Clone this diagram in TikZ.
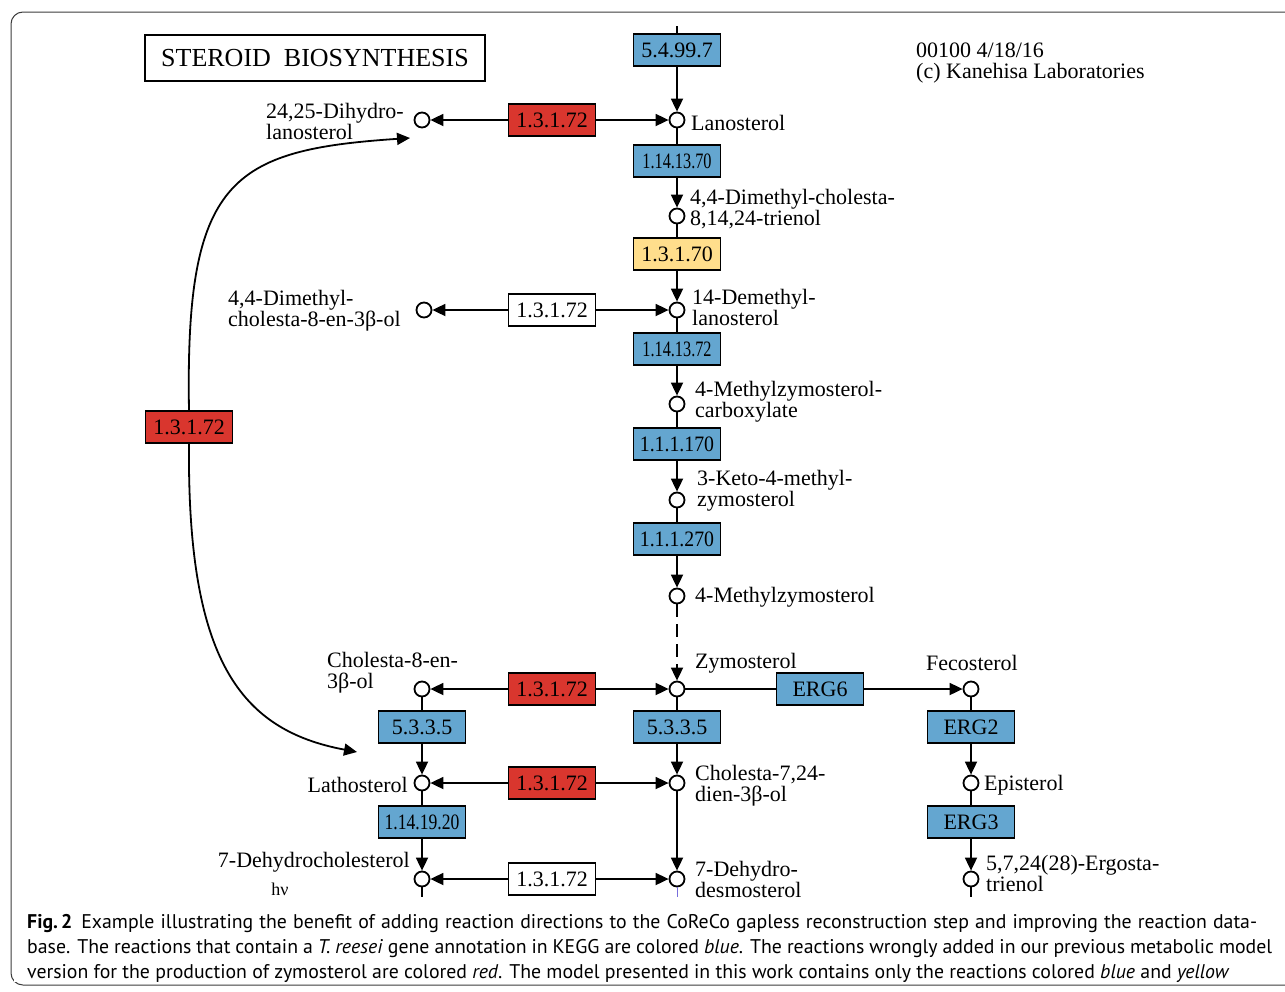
\documentclass[tikz,border=0pt]{standalone}
\usepackage{fontspec}
\usepackage{graphicx}
\setmainfont{Liberation Serif}
\newfontfamily\capfont{PT Sans}
\usetikzlibrary{arrows.meta}
\definecolor{keggblue}{RGB}{100,166,208}
\definecolor{keggred}{RGB}{217,54,46}
\definecolor{keggyellow}{RGB}{255,222,140}
\definecolor{framegray}{RGB}{60,60,60}
\definecolor{linkviolet}{RGB}{120,110,220}
\newcommand\kf{\fontsize{22}{21}\selectfont}
\newcommand\nx[2]{\scalebox{#1}[1]{#2}}
\begin{document}
\begin{tikzpicture}[x=1pt,y=-1pt,
  cpd/.style={circle,draw=black,fill=white,line width=1.8pt,minimum size=15pt,inner sep=0pt},
  enz/.style={draw=black,line width=1.3pt,minimum width=87pt,minimum height=32pt,inner sep=0pt,font=\kf},
  enzB/.style={enz,fill=keggblue},
  enzR/.style={enz,fill=keggred},
  enzY/.style={enz,fill=keggyellow},
  enzW/.style={enz,fill=white},
  lab/.style={anchor=west,align=left,font=\kf,inner sep=0pt},
  labR/.style={anchor=east,align=right,font=\kf,inner sep=0pt},
  capl/.style={anchor=base west,inner sep=0pt,font=\capfont\fontsize{19.8}{25}\selectfont},
  rxn/.style={line width=1.8pt},
  rxnA/.style={rxn,-{Triangle[length=13pt,width=12pt]}}]
\useasboundingbox (0,0) rectangle (1285,991);
\clip (0,0) rectangle (1285,991);
\def\xm{677}
\def\xl{422}
\def\xr{971}
\def\xe{552}

\draw[framegray,line width=1pt,rounded corners=12pt] (11,12) rectangle (1320,985);

\node[draw=black,line width=2.8pt,minimum width=340pt,minimum height=46pt,font=\fontsize{26}{26}\selectfont] (title) at (315,58) {STEROID\ \ BIOSYNTHESIS};
\node[lab] (copy) at (916,63) {00100 4/18/16\\(c) Kanehisa Laboratories};

\coordinate (top) at (\xm,26);
\node[enzB] (e5499) at (\xm,50) {5.4.99.7};
\node[cpd] (lano) at (\xm,120) {};
\node[lab] at (691,123) {Lanosterol};
\node[enzR] (r1) at (\xe,120) {1.3.1.72};
\node[cpd] (dihy) at (\xl,120) {};
\node[lab] at (266,121) {24,25-Dihydro-\\lanosterol};
\node[enzB] (e11413a) at (\xm,161) {\nx{0.74}{1.14.13.70}};
\node[cpd] (dmct) at (\xm,216) {};
\node[lab] at (690,209) {4,4-Dimethyl-cholesta-\\8,14,24-trienol};
\node[enzY] (e13170) at (\xm,254) {1.3.1.70};
\node[cpd] (demeth) at (\xm,310) {};
\node[lab] at (692,307) {14-Demethyl-\\lanosterol};
\node[enzW] (w1) at (\xe,310) {1.3.1.72};
\node[cpd] (dmch) at (424,310) {};
\node[lab] at (228,311) {4,4-Dimethyl-\\cholesta-8-en-3β-ol};
\node[enzB] (e11413b) at (\xm,349) {\nx{0.74}{1.14.13.72}};
\node[cpd] (mzc) at (\xm,404) {};
\node[lab] at (695,402) {4-Methylzymosterol-\\carboxylate};
\node[enzB] (e111170) at (\xm,444) {\nx{0.9}{1.1.1.170}};
\node[cpd] (keto) at (\xm,500) {};
\node[lab] at (697,491) {3-Keto-4-methyl-\\zymosterol};
\node[enzB] (e111270) at (\xm,539) {\nx{0.9}{1.1.1.270}};
\node[cpd] (mz) at (\xm,596) {};
\node[lab] at (695,597) {4-Methylzymosterol};
\node[cpd] (zymo) at (\xm,689) {};
\node[lab] at (695,663) {Zymosterol};
\node[enzR] (r2) at (\xe,689) {1.3.1.72};
\node[cpd] (ch8) at (\xl,689) {};
\node[lab] at (327,673) {Cholesta-8-en-\\3β-ol};
\node[enzB] (erg6) at (820,689) {ERG6};
\node[cpd] (feco) at (\xr,689) {};
\node[lab] at (926,663) {Fecosterol};
\node[enzB] (e5335a) at (\xl,727) {5.3.3.5};
\node[enzB] (e5335b) at (\xm,727) {5.3.3.5};
\node[enzB] (erg2) at (\xr,727) {ERG2};
\node[cpd] (latho) at (\xl,783) {};
\node[labR] at (408,785) {Lathosterol};
\node[enzR] (r3) at (\xe,783) {1.3.1.72};
\node[cpd] (ch724) at (\xm,783) {};
\node[lab] at (695,786) {Cholesta-7,24-\\dien-3β-ol};
\node[cpd] (epi) at (\xr,783) {};
\node[lab] at (984,785) {Episterol};
\node[enzB] (e11419) at (\xl,822) {\nx{0.8}{1.14.19.20}};
\node[enzB] (erg3) at (\xr,822) {ERG3};
\node[cpd] (dhc) at (\xl,879) {};
\node[labR] at (410,862) {7-Dehydrocholesterol};
\node[font=\fontsize{18}{18}\selectfont] (hnu) at (280,889) {hν};
\node[enzW] (w2) at (\xe,879) {1.3.1.72};
\node[cpd] (dhd) at (\xm,879) {};
\node[lab] at (695,879) {7-Dehydro-\\desmosterol};
\node[cpd] (erg) at (\xr,879) {};
\node[lab] at (986,873) {5,7,24(28)-Ergosta-\\trienol};
\coordinate (b1) at (\xl,897);
\coordinate (b2) at (\xm,897);
\coordinate (b3) at (\xr,897);

\node[enzR] (rc) at (189,427) {1.3.1.72};
\coordinate (cu) at (410,138);
\coordinate (cd) at (357,752);

\draw[rxn] (top) -- (e5499.north);
\draw[rxnA] (e5499.south) -- (lano.north);
\draw[rxnA] (r1.east) -- (lano.west);
\draw[rxnA] (r1.west) -- (dihy.east);
\draw[rxn] (lano.south) -- (e11413a.north);
\draw[rxnA] (e11413a.south) -- (dmct.north);
\draw[rxn] (dmct.south) -- (e13170.north);
\draw[rxnA] (e13170.south) -- (demeth.north);
\draw[rxnA] (w1.east) -- (demeth.west);
\draw[rxnA] (w1.west) -- (dmch.east);
\draw[rxn] (demeth.south) -- (e11413b.north);
\draw[rxnA] (e11413b.south) -- (mzc.north);
\draw[rxn] (mzc.south) -- (e111170.north);
\draw[rxnA] (e111170.south) -- (keto.north);
\draw[rxn] (keto.south) -- (e111270.north);
\draw[rxnA] (e111270.south) -- (mz.north);
\draw[rxnA,dash pattern=on 13pt off 7pt] (mz.south) -- (zymo.north);
\draw[rxnA] (r2.east) -- (zymo.west);
\draw[rxnA] (r2.west) -- (ch8.east);
\draw[rxn] (zymo.east) -- (erg6.west);
\draw[rxnA] (erg6.east) -- (feco.west);
\draw[rxn] (ch8.south) -- (e5335a.north);
\draw[rxnA] (e5335a.south) -- (latho.north);
\draw[rxn] (zymo.south) -- (e5335b.north);
\draw[rxnA] (e5335b.south) -- (ch724.north);
\draw[rxn] (feco.south) -- (erg2.north);
\draw[rxnA] (erg2.south) -- (epi.north);
\draw[rxnA] (r3.west) -- (latho.east);
\draw[rxnA] (r3.east) -- (ch724.west);
\draw[rxn] (latho.south) -- (e11419.north);
\draw[rxnA] (e11419.south) -- (dhc.north);
\draw[rxnA] (ch724.south) -- (dhd.north);
\draw[rxn] (epi.south) -- (erg3.north);
\draw[rxnA] (erg3.south) -- (erg.north);
\draw[rxnA] (w2.west) -- (dhc.east);
\draw[rxnA] (w2.east) -- (dhd.west);
\draw[rxn] (dhc.south) -- (b1);
\draw[line width=1pt,linkviolet] (dhd.south) -- (b2);
\draw[rxn] (erg.south) -- (b3);
\draw[rxnA,line width=1.8pt] (rc.north) .. controls (185,180) and (230,150) .. (cu);
\draw[rxnA,line width=1.8pt] (rc.south) .. controls (187,660) and (240,730) .. (cd);

\fill[white] (14,900) rectangle (1285,982);
\node[capl] (cap1) at (27,928) {\makebox[1230pt][s]{\textbf{Fig.\kern3pt2}\kern9pt Example illustrating the benefit of adding reaction directions to the CoReCo gapless reconstruction step and improving the reaction data-}};
\node[capl] (cap2) at (27,953) {\makebox[1245pt][s]{base. The reactions that contain a \textit{T. reesei} gene annotation in KEGG are colored \textit{blue}. The reactions wrongly added in our previous metabolic model}};
\node[capl] (cap3) at (27,978) {version for the production of zymosterol are colored \textit{red}. The model presented in this work contains only the reactions colored \textit{blue} and \textit{yellow}};
\end{tikzpicture}
\end{document}
